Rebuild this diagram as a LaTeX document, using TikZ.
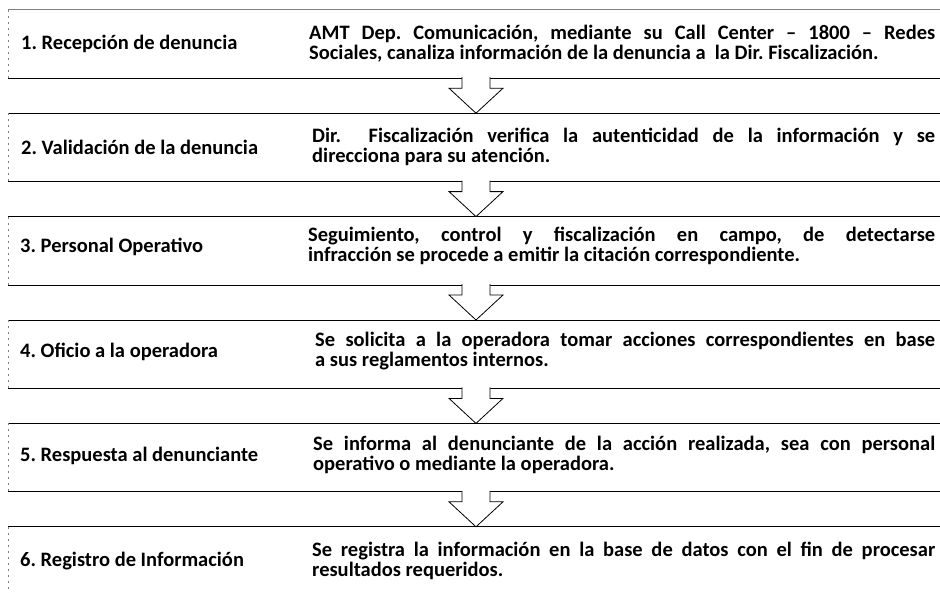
\documentclass[tikz,border=0pt]{standalone}
\usepackage{fontspec}
\setmainfont{Carlito}
\usepackage{tikz}
\frenchspacing

\tikzset{
  paso/.style={rectangle,minimum width=936pt,minimum height=68pt,inner sep=0pt},
  etiqueta/.style={anchor=west,inner sep=0pt,font=\fontsize{20.5}{20}\selectfont\bfseries},
  detalle/.style={anchor=west,inner sep=0pt,text width=627pt,align=justify,font=\fontsize{20.5}{20}\selectfont\bfseries},
  borde/.style={line width=0.9pt},
  lado/.style={gray,line width=0.5pt,dash pattern=on 2pt off 4pt},
  flecha/.style={draw=black,line width=0.8pt,fill=white,line join=miter}
}

\begin{document}
\begin{tikzpicture}[x=1pt,y=-1pt]
\clip (0,0) rectangle (940,592);
% cajas de los pasos
\node at (476,44) [paso] (Paso1) {};
\node at (476,147.4) [paso] (Paso2) {};
\node at (476,250.8) [paso] (Paso3) {};
\node at (476,354.2) [paso] (Paso4) {};
\node at (476,457.6) [paso] (Paso5) {};
\node at (476,561) [paso] (Paso6) {};
\draw [borde,gray] (Paso1.north west) -- (Paso1.north east);
\draw [borde] (Paso1.south west) -- (Paso1.south east);
\draw [lado] (Paso1.north west) -- (Paso1.south west);
\draw [borde] (Paso2.north west) -- (Paso2.north east);
\draw [borde] (Paso2.south west) -- (Paso2.south east);
\draw [lado] (Paso2.north west) -- (Paso2.south west);
\draw [borde] (Paso3.north west) -- (Paso3.north east);
\draw [borde] (Paso3.south west) -- (Paso3.south east);
\draw [lado] (Paso3.north west) -- (Paso3.south west);
\draw [borde] (Paso4.north west) -- (Paso4.north east);
\draw [borde] (Paso4.south west) -- (Paso4.south east);
\draw [lado] (Paso4.north west) -- (Paso4.south west);
\draw [borde] (Paso5.north west) -- (Paso5.north east);
\draw [borde] (Paso5.south west) -- (Paso5.south east);
\draw [lado] (Paso5.north west) -- (Paso5.south west);
\draw [borde] (Paso6.north west) -- (Paso6.north east);
\draw [borde] (Paso6.south west) -- (Paso6.south east);
\draw [lado] (Paso6.north west) -- (Paso6.south west);
% nombres de los pasos
\node at (21,44) [etiqueta] (Nombre1) {1. Recepción de denuncia};
\node at (21,147.4) [etiqueta] (Nombre2) {2. Validación de la denuncia};
\node at (20,247) [etiqueta] (Nombre3) {3. Personal Operativo};
\node at (20,352) [etiqueta] (Nombre4) {4. Oficio a la operadora};
\node at (20,456) [etiqueta] (Nombre5) {5. Respuesta al denunciante};
\node at (20,561) [etiqueta] (Nombre6) {6. Registro de Información};
% descripciones
\node at (309,44) [detalle,text width=626pt] (Texto1) {AMT Dep. Comunicación, mediante su Call Center – 1800 – Redes\linebreak Sociales, canaliza información de la denuncia a\ \ la Dir. Fiscalización.};
\node at (312,147.4) [detalle,text width=623pt] (Texto2) {Dir.\ \ Fiscalización verifica la autenticidad de la información y se\linebreak direcciona para su atención.};
\node at (308,246) [detalle,text width=627pt] (Texto3) {Seguimiento, control y fiscalización en campo, de detectarse\linebreak infracción se procede a emitir la citación correspondiente.};
\node at (315,351) [detalle,text width=620pt] (Texto4) {Se solicita a la operadora tomar acciones correspondientes en base\linebreak a sus reglamentos internos.};
\node at (313,455) [detalle,text width=622pt] (Texto5) {Se informa al denunciante de la acción realizada, sea con personal\linebreak operativo o mediante la operadora.};
\node at (312,561) [detalle,text width=623pt] (Texto6) {Se registra la información en la base de datos con el fin de procesar\linebreak resultados requeridos.};
% flechas entre pasos
\filldraw [flecha] (Paso1.south) ++(-14,-1) -- ++(0,11) -- ++(-13,0) -- (Paso2.north) -- ++(27,-25) -- ++(-13,0) -- ++(0,-11);
\filldraw [flecha] (Paso2.south) ++(-14,-1) -- ++(0,11) -- ++(-13,0) -- (Paso3.north) -- ++(27,-25) -- ++(-13,0) -- ++(0,-11);
\filldraw [flecha] (Paso3.south) ++(-14,-1) -- ++(0,11) -- ++(-13,0) -- (Paso4.north) -- ++(27,-25) -- ++(-13,0) -- ++(0,-11);
\filldraw [flecha] (Paso4.south) ++(-14,-1) -- ++(0,11) -- ++(-13,0) -- (Paso5.north) -- ++(27,-25) -- ++(-13,0) -- ++(0,-11);
\filldraw [flecha] (Paso5.south) ++(-14,-1) -- ++(0,11) -- ++(-13,0) -- (Paso6.north) -- ++(27,-25) -- ++(-13,0) -- ++(0,-11);
\end{tikzpicture}
\end{document}
